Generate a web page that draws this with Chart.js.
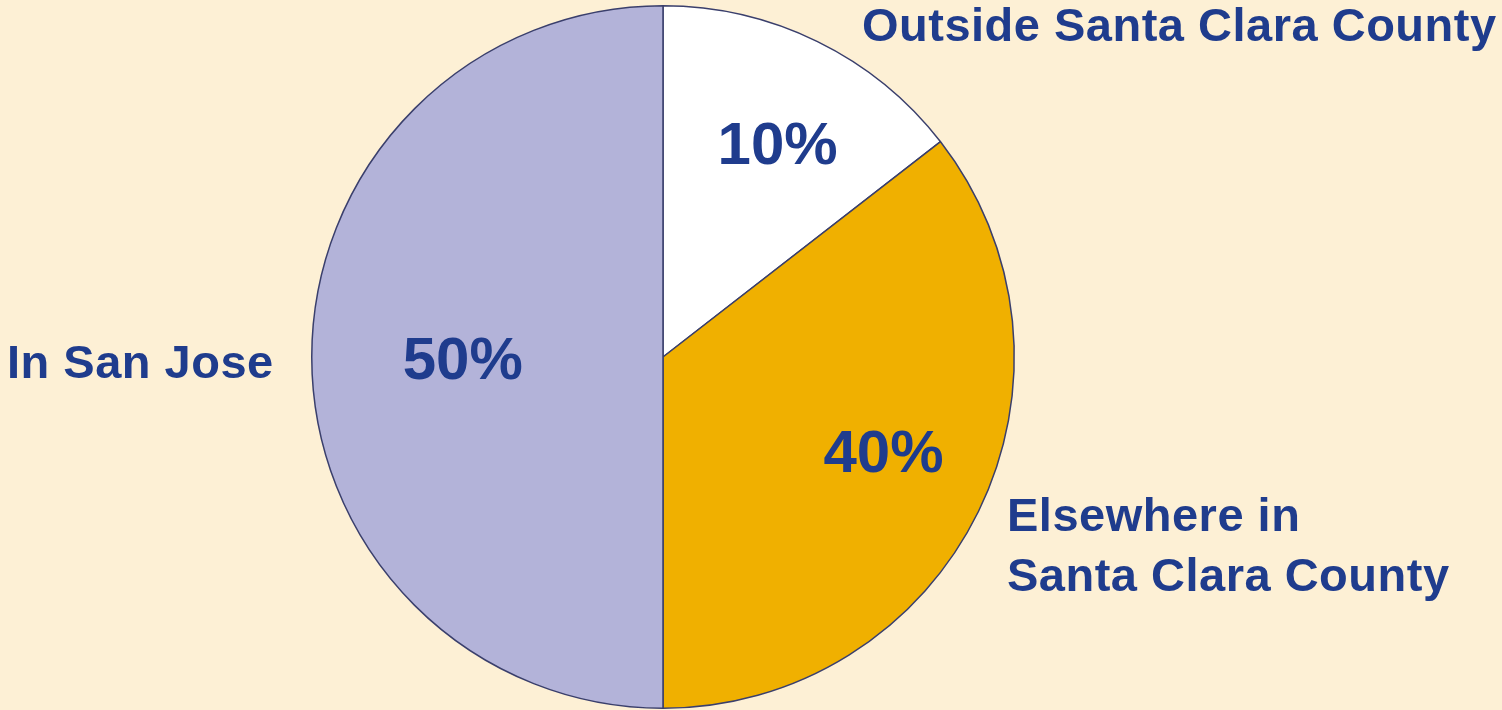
<!DOCTYPE html>
<html>
<head>
<meta charset="utf-8">
<script src="https://cdn.jsdelivr.net/npm/chart.js@4/dist/chart.umd.min.js"></script>
<style>
  html, body { margin: 0; padding: 0; background: #fdf0d5; }
  #wrap { width: 1502px; height: 710px; position: relative; }
</style>
</head>
<body>
<div id="wrap"><canvas id="chart-pie"></canvas></div>
<script>
// slices clockwise from 12 o'clock, sized as drawn in the picture
const CATEGORIES = ['Outside Santa Clara County', 'Elsewhere in Santa Clara County', 'In San Jose'];
const SLICE_VALUES = [14.5, 35.5, 50];
const PCT_LABELS = ['10%', '40%', '50%'];
const SLICE_COLORS = ['#ffffff', '#f0b000', '#b3b3d9'];

const TEXT_COLOR = '#1f3c8d';
const FONT = '"Liberation Sans", Arial, sans-serif';

// where each percent label sits: fraction of radius on the slice mid-angle, plus a small nudge
var pctRadius = [0.69, 0.68, 0.57];
var pctNudge = [[8, 6], [6, -9], [0, 3]];

var labelPlugin = {
  id: 'pieLabels',
  afterDatasetsDraw: function(chart) {
    var ctx = chart.ctx;
    var arcs = chart.getDatasetMeta(0).data;
    ctx.save();
    ctx.fillStyle = TEXT_COLOR;

    // percentages inside the slices
    ctx.font = 'bold 60px ' + FONT;
    ctx.textAlign = 'center';
    ctx.textBaseline = 'middle';
    arcs.forEach(function(arc, i) {
      var mid = (arc.startAngle + arc.endAngle) / 2;
      var r = arc.outerRadius * pctRadius[i];
      ctx.fillText(PCT_LABELS[i],
        arc.x + Math.cos(mid) * r + pctNudge[i][0],
        arc.y + Math.sin(mid) * r + 2 + pctNudge[i][1]);
    });

    // category names outside the pie
    var a = arcs[0];
    var cx = a.x, cy = a.y, R = a.outerRadius;
    ctx.font = 'bold 47px ' + FONT;
    ctx.letterSpacing = '0.5px';
    ctx.textBaseline = 'alphabetic';

    ctx.textAlign = 'left';
    ctx.fillText('Outside Santa Clara County', cx + 199, cy - 316);
    ctx.fillText('Elsewhere in', cx + 344, cy + 174);
    ctx.fillText('Santa Clara County', cx + 344, cy + 234);

    ctx.textAlign = 'right';
    ctx.fillText('In San Jose', cx - R - 38, cy + 21);
    ctx.restore();
  },
};

function initPie() {
  var ctx = document.getElementById('chart-pie');
  new Chart(ctx, {
    type: 'pie',
    data: {
      labels: CATEGORIES,
      datasets: [{
        data: SLICE_VALUES,
        backgroundColor: SLICE_COLORS,
        borderColor: '#3a3f6c',
        borderWidth: 1.5,
      }],
    },
    options: {
      responsive: true,
      maintainAspectRatio: false,
      animation: false,
      layout: { padding: { left: 311, right: 487, top: 5, bottom: 1 } },
      plugins: {
        legend: { display: false },
        tooltip: { enabled: false },
      },
    },
    plugins: [labelPlugin],
  });
}

initPie();
</script>
</body>
</html>
